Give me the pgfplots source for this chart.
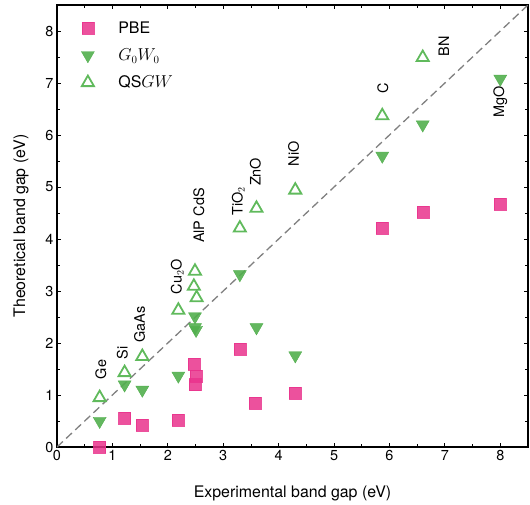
\documentclass[border=0pt]{standalone}
\usepackage{fontspec}
\setmainfont{TeX Gyre Heros}
\usepackage{pgfplots}
\pgfplotsset{compat=1.18}
\definecolor{pbe}{RGB}{233,50,140}
\definecolor{gw}{RGB}{82,175,78}
\definecolor{qs}{RGB}{96,186,92}
\begin{document}
\begin{tikzpicture}
\begin{axis}[
  width=471bp, height=442bp, scale only axis,
  xmin=0, xmax=8.5, ymin=0, ymax=8.5,
  xtick={0,...,8}, ytick={0,...,8},
  minor tick num=1,
  tick align=inside,
  major tick length=4bp, minor tick length=3bp,
  every tick/.style={black, line width=0.8bp},
  axis line style={line width=1.3bp},
  /pgf/number format/assume math mode=true,
  tick label style={font=\fontsize{14.5}{16}\selectfont},
  label style={font=\fontsize{16}{18}\selectfont},
  xlabel={Experimental band gap (eV)},
  ylabel={Theoretical band gap (eV)},
  xlabel style={yshift=-18bp},
  ylabel style={yshift=10bp},
  legend style={at={(0.045,0.972)}, anchor=north west, draw=none, fill=none,
    font=\fontsize{16}{18}\selectfont, row sep=10bp, column sep=22bp},
  legend cell align=left,
]
\addplot[gray, dash pattern=on 8bp off 4.5bp, line width=1.3bp, forget plot] coordinates {(0,0) (8.5,8.5)};
\addplot[only marks, mark=square*, mark size=6bp, draw=pbe, fill=pbe, mark options={fill opacity=0.85, draw opacity=0.85, draw=pbe, fill=pbe}] coordinates {
(0.77,0.0) (1.22,0.56) (1.54,0.42) (2.19,0.52) (2.47,1.60) (2.51,1.37) (2.49,1.20)
(3.30,1.89) (3.57,0.85) (4.30,1.04) (5.87,4.21) (6.60,4.52) (8.0,4.67)};
\addlegendentry{PBE}
\addplot[only marks, mark=triangle*, mark size=7.5bp, mark options={rotate=180, draw=gw, fill=gw, fill opacity=0.9}] coordinates {
(0.77,0.50) (1.22,1.20) (1.54,1.10) (2.19,1.37) (2.49,2.51) (2.49,2.30) (2.51,2.25)
(3.30,3.32) (3.60,2.30) (4.30,1.76) (5.87,5.60) (6.60,6.20) (8.0,7.08)};
\addlegendentry{$G_0W_0$}
\addplot[only marks, mark=triangle, mark size=7bp, mark options={draw=qs, line width=1.8bp}] coordinates {
(0.77,0.95) (1.22,1.43) (1.54,1.74) (2.19,2.63) (2.49,3.38) (2.47,3.09) (2.52,2.87)
(3.30,4.21) (3.60,4.59) (4.30,4.94) (5.87,6.37) (6.60,7.49)};
\addlegendentry{$\mathrm{QS}GW$}
\begin{scope}[every node/.style={rotate=90, font=\fontsize{14.5}{16}\selectfont, inner sep=0pt}]
\node at (axis cs:0.79,1.49) {Ge};
\node at (axis cs:1.18,1.81) {Si};
\node at (axis cs:1.49,2.36) {GaAs};
\node at (axis cs:2.17,3.28) {Cu$_2$O};
\node at (axis cs:2.56,4.45) {AlP CdS};
\node at (axis cs:3.27,4.73) {TiO$_2$};
\node at (axis cs:3.58,5.29) {ZnO};
\node at (axis cs:4.27,5.64) {NiO};
\node at (axis cs:5.88,6.90) {C};
\node at (axis cs:6.98,7.70) {BN};
\node at (axis cs:8.00,6.64) {MgO};
\end{scope}
\end{axis}
\path (current axis.south west) ++(-57bp,-53bp);
\path (current axis.north east) ++(2bp,5bp);
\end{tikzpicture}
\end{document}
